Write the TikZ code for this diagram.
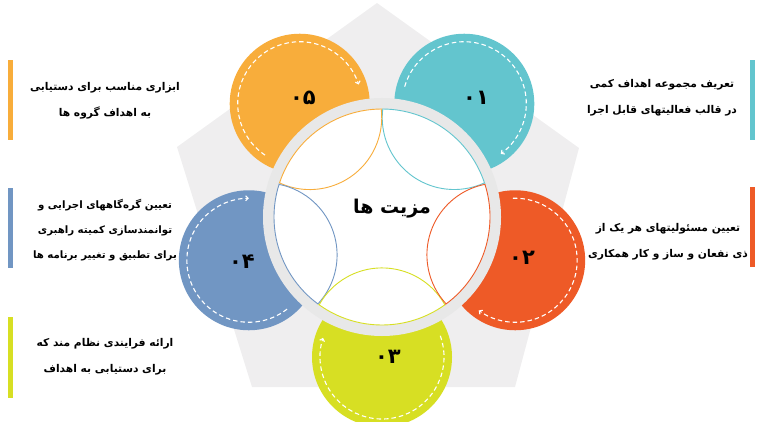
\documentclass[tikz,border=0pt]{standalone}
\usepackage{fontspec}
\usetikzlibrary{arrows.meta}
\TeXXeTstate=1
\newfontfamily\fa[Script=Arabic]{DejaVu Sans}
\definecolor{cTeal}{HTML}{63C5CE}
\definecolor{cRed}{HTML}{EE5A27}
\definecolor{cYellow}{HTML}{D7DF23}
\definecolor{cBlue}{HTML}{7196C3}
\definecolor{cOrange}{HTML}{F8AD3B}
\definecolor{cPent}{HTML}{EFEEEF}
\definecolor{cRing}{HTML}{E8E8E8}
\tikzset{
  lensline/.style={line width=0.9pt, fill=white},
  dasharc/.style={white, line width=1.1pt, dash pattern=on 4.5pt off 3pt,
    -{Straight Barb[length=2.5pt,width=5pt]}},
  numlabel/.style={font=\fa\bfseries\fontsize{21}{24}\selectfont, inner sep=0pt},
  titlelabel/.style={font=\fa\bfseries\fontsize{19}{22}\selectfont, inner sep=0pt},
  sidetext/.style={align=center, inner sep=0pt, font=\fa\bfseries\fontsize{10.7}{25.5}\selectfont},
  sidetextsmall/.style={sidetext, font=\fa\bfseries\fontsize{10.2}{25}\selectfont}
}
\begin{document}
\begin{tikzpicture}[x=1pt,y=1pt]
\useasboundingbox (0,0) rectangle (759,-422);
% pentagon background
\fill[cPent] (377,-3) -- (579,-148) -- (515,-387) -- (252,-387) -- (177,-147) -- cycle;
\coordinate (C) at (382,-217);
% satellite disks
\foreach \a/\c in {54/cTeal,126/cOrange,198/cBlue,270/cYellow,342/cRed} {
  \fill[\c] (C) ++(\a:140) circle (70);
}
% ring and white centre
\fill[cRing] (C) circle (119);
\fill[white] (C) circle (108);
% lenses and dashed arcs
\foreach \a/\c in {54/cTeal,126/cOrange,198/cBlue,270/cYellow,342/cRed} {
  \pgfmathsetmacro\sA{\a-35.6}
  \pgfmathsetmacro\eA{\a+35.6}
  \pgfmathsetmacro\sB{\a+119.2}
  \pgfmathsetmacro\eB{\a+240.8}
  \draw[\c, lensline] (C) ++(\sA:108) arc[start angle=\sA, end angle=\eA, radius=108]
       arc[start angle=\sB, end angle=\eB, radius=72] -- cycle;
  \pgfmathsetmacro\dS{\a+110}
  \pgfmathsetmacro\dE{\a-108}
  \draw[dasharc] (C) ++(\a:140) ++(\dS:62) arc[start angle=\dS, end angle=\dE, radius=62];
}
% numbers
\node[numlabel] (n1) at (476,-98) {۰۱};
\node[numlabel] (n2) at (522,-258) {۰۲};
\node[numlabel] (n3) at (388,-357) {۰۳};
\node[numlabel] (n4) at (242,-262) {۰۴};
\node[numlabel] (n5) at (303,-98) {۰۵};
% title
\node[titlelabel] (title) at (392,-209) {\beginR مزیت ها\endR};
% side bars
\fill[cOrange] (8,-60) rectangle (13,-140);
\fill[cBlue] (8,-188) rectangle (13,-268);
\fill[cYellow] (8,-317) rectangle (13,-398);
\fill[cTeal] (750,-60) rectangle (755,-140);
\fill[cRed] (750,-187) rectangle (755,-267);
% side texts
\node[sidetext] (t5) at (105,-100.5) {\beginR ابزاری مناسب برای دستیابی\endR\\\beginR به اهداف گروه ها\endR};
\node[sidetextsmall] (t4) at (105,-230) {\beginR تعیین گره^^^^200cگاههای اجرایی و\endR\\\beginR توانمندسازی کمیته راهبری\endR\\\beginR برای تطبیق و تغییر برنامه ها\endR};
\node[sidetext] (t3) at (105,-356.5) {\beginR ارائه فرایندی نظام مند که\endR\\\beginR برای دستیابی به اهداف\endR};
\node[sidetext] (t1) at (662,-97.5) {\beginR تعریف مجموعه اهداف کمی\endR\\\beginR در قالب فعالیتهای قابل اجرا\endR};
\node[sidetext] (t2) at (668,-241.5) {\beginR تعیین مسئولیتهای هر یک از\endR\\\beginR ذی نفعان و ساز و کار همکاری\endR};
\end{tikzpicture}
\end{document}
